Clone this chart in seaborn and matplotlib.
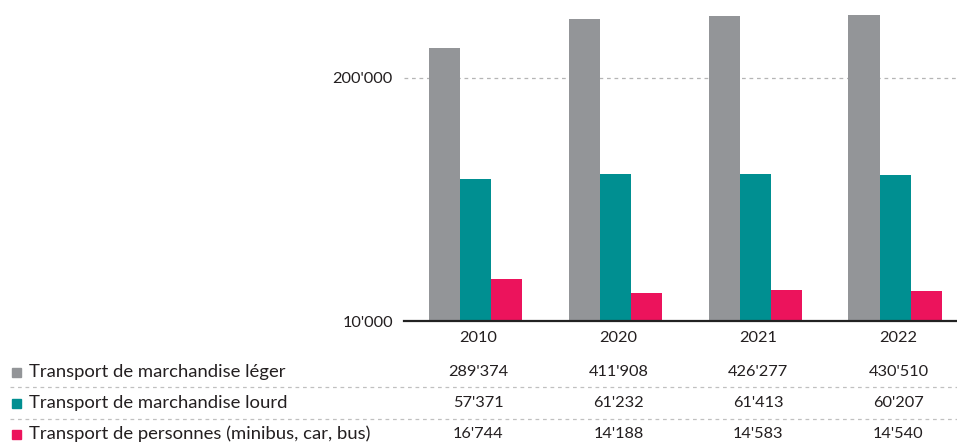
import numpy as np
import pandas as pd
import matplotlib.pyplot as plt
import matplotlib.transforms as mtransforms
from matplotlib.patches import Rectangle
from matplotlib.lines import Line2D
import seaborn as sns

# data
years = ["2010", "2020", "2021", "2022"]
series = ["Transport de marchandise léger",
          "Transport de marchandise lourd",
          "Transport de personnes (minibus, car, bus)"]
leger = [289374, 411908, 426277, 430510]
lourd = [57371, 61232, 61413, 60207]
personnes = [16744, 14188, 14583, 14540]
colors = ["#939598", "#008F91", "#EC135C"]

df = pd.DataFrame({
    "year": years * 3,
    "value": leger + lourd + personnes,
    "series": [s for s in series for _ in years],
})

def fmt(v):
    return f"{v:,}".replace(",", "'")

sns.set_style("white")
plt.rcParams["font.family"] = ["Lato", "DejaVu Sans"]
txt = "#231f20"
num_size = 11.8

W, H = 957, 444
fig = plt.figure(figsize=(W / 100, H / 100), dpi=100)
ax = fig.add_axes([404 / W, 1 - 321 / H, 1 - 404 / W, 321 / H])

sns.barplot(data=df, x="year", y="value", hue="series", palette=colors,
            width=0.67, linewidth=0, saturation=1, legend=False, ax=ax)
ax.set_yscale("log")
ax.set_ylim(10000, 520000)
# bars sit a few px left of the labels in the reference
ax.set_xlim(-0.51, 3.44)

ax.set_yticks([10000, 200000])
ax.set_yticklabels([fmt(10000), fmt(200000)])
ax.yaxis.set_minor_locator(plt.NullLocator())
ax.tick_params(axis="both", length=0, labelsize=num_size, colors=txt)
ax.tick_params(axis="y", pad=8)
ax.tick_params(axis="x", pad=7)
ax.set_xlabel("")
ax.set_ylabel("")
shift = mtransforms.ScaledTranslation(3 / 100, 0, fig.dpi_scale_trans)
for lab in ax.get_xticklabels():
    lab.set_transform(lab.get_transform() + shift)
ax.axhline(200000, color="#b5b5b5", lw=0.9, ls=(0, (3, 3)), zorder=0)

for s in ["left", "right", "top"]:
    ax.spines[s].set_visible(False)
ax.spines["bottom"].set_color("#222222")
ax.spines["bottom"].set_linewidth(1.6)

# table below the chart
trans = mtransforms.blended_transform_factory(ax.transData, fig.transFigure) + shift
rows_y = [372, 403, 434]
for i, (name, vals) in enumerate(zip(series, [leger, lourd, personnes])):
    yf = 1 - rows_y[i] / H
    fig.patches.append(Rectangle((12 / W, yf - 4.5 / H), 9 / W, 9 / H,
                                 transform=fig.transFigure, color=colors[i]))
    fig.text(29 / W, yf, name, fontsize=13.3, color=txt, va="center", ha="left")
    for j, v in enumerate(vals):
        ax.text(j, yf, fmt(v), transform=trans, fontsize=num_size, color=txt,
                va="center", ha="center", clip_on=False)

for yp in [387, 419]:
    fig.lines.append(Line2D([10 / W, 1], [1 - yp / H, 1 - yp / H],
                            transform=fig.transFigure, color="#c0c0c0",
                            lw=0.9, ls=(0, (3, 3))))

fig.savefig("out.png", dpi=100)
